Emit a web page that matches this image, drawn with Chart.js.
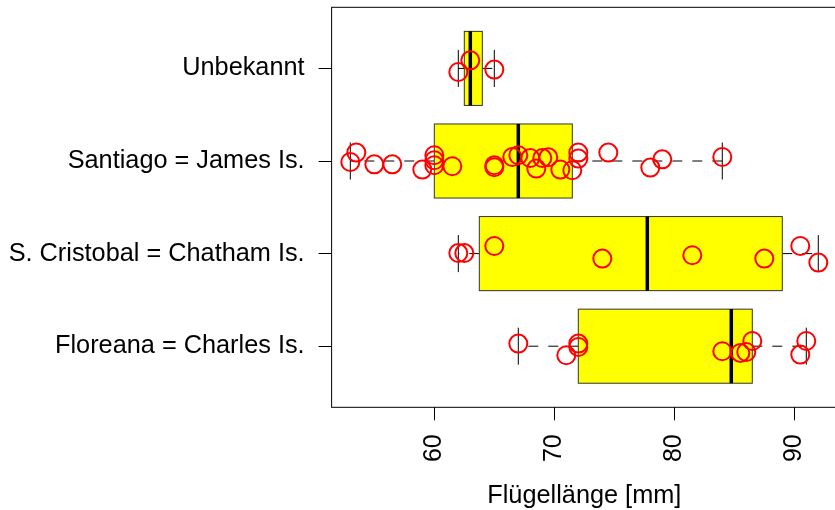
<!DOCTYPE html>
<html>
<head>
<meta charset="utf-8">
<script src="https://cdn.jsdelivr.net/npm/chart.js@4/dist/chart.umd.min.js"></script>
<style>
  html, body { margin: 0; padding: 0; overflow: hidden; background: #fff; width: 835px; height: 510px; }
  canvas { display: block; }
</style>
</head>
<body>
<canvas id="c" width="840" height="510"></canvas>
<script>
// Groups, bottom to top on the value axis
const islands = ["Floreana = Charles Is.", "S. Cristobal = Chatham Is.", "Santiago = James Is.", "Unbekannt"];
const xTicks = [60, 70, 80, 90];

// Wing lengths (mm) per island, with the vertical jitter of each stripchart point
const floreana = [67, 71, 72, 72, 84, 85.5, 86, 86.5, 90.5, 91];
const floreanaJitter = [0.028, -0.098, 0.028, -0.009, -0.055, -0.073, -0.063, 0.056, -0.091, 0.056];

const chatham = [62, 62.5, 65, 74, 81.5, 87.5, 90.5, 92];
const chathamJitter = [0.006, 0.006, 0.082, -0.054, -0.018, -0.054, 0.082, -0.097];

const santiago = [53, 53.5, 55, 56.5, 59, 60, 60, 60, 61.5, 65, 65, 66.5, 67, 68, 68.5, 69, 69.5, 70.5, 71.5, 72, 72, 74.5, 78, 79, 84];
const santiagoJitter = [-0.011, 0.091, -0.036, -0.036, -0.093, 0.062, 0.008, -0.046, -0.057, -0.046, -0.068, 0.043, 0.062, 0.032, -0.082, 0.032, 0.040, -0.093, -0.100, 0.091, 0.026, 0.091, -0.071, 0.018, 0.043];

const unbekannt = [62, 63, 65];
const unbekanntJitter = [-0.039, 0.087, -0.013];

const groups = [floreana, chatham, santiago, unbekannt];
const jitters = [floreanaJitter, chathamJitter, santiagoJitter, unbekanntJitter];

// Tukey five-number summary and 1.5*IQR whiskers
function fivenum(a) {
  const x = [...a].sort((p, q) => p - q);
  const n = x.length;
  const n4 = Math.floor((n + 3) / 2) / 2;
  const d = [1, n4, (n + 1) / 2, n + 1 - n4, n];
  return d.map(v => 0.5 * (x[Math.floor(v) - 1] + x[Math.ceil(v) - 1]));
}
function boxStats(a) {
  const f = fivenum(a);
  const iqr = f[3] - f[1];
  const inside = a.filter(v => v >= f[1] - 1.5 * iqr && v <= f[3] + 1.5 * iqr);
  return { lo: Math.min(...inside), q1: f[1], med: f[2], q3: f[3], hi: Math.max(...inside) };
}

const points = [];
groups.forEach((g, i) => g.forEach((v, k) => points.push({ x: v, y: i + 1 + jitters[i][k] })));

const BOX_HALF = 0.4, STAPLE_HALF = 0.2;

const boxPlugin = {
  id: 'boxes',
  beforeDatasetsDraw(chart) {
    const { ctx, chartArea: a, scales: { x, y } } = chart;
    ctx.save();
    groups.forEach((g, i) => {
      const pos = i + 1;
      const s = boxStats(g);
      const yc = y.getPixelForValue(pos);
      const yt = y.getPixelForValue(pos + BOX_HALF);
      const yb = y.getPixelForValue(pos - BOX_HALF);
      const st = y.getPixelForValue(pos + STAPLE_HALF);
      const sb = y.getPixelForValue(pos - STAPLE_HALF);
      const xlo = x.getPixelForValue(s.lo), xq1 = x.getPixelForValue(s.q1);
      const xmed = x.getPixelForValue(s.med), xq3 = x.getPixelForValue(s.q3);
      const xhi = x.getPixelForValue(s.hi);

      // dashed whiskers
      ctx.strokeStyle = '#000';
      ctx.lineWidth = 1;
      ctx.setLineDash([10, 10]);
      ctx.beginPath();
      ctx.moveTo(xq1, yc); ctx.lineTo(xlo, yc);
      ctx.moveTo(xq3, yc); ctx.lineTo(xhi, yc);
      ctx.stroke();
      ctx.setLineDash([]);

      // staples
      ctx.beginPath();
      ctx.moveTo(xlo, st); ctx.lineTo(xlo, sb);
      ctx.moveTo(xhi, st); ctx.lineTo(xhi, sb);
      ctx.stroke();

      // box
      ctx.fillStyle = '#ffff00';
      ctx.fillRect(xq1, yt, xq3 - xq1, yb - yt);
      ctx.strokeStyle = '#333';
      ctx.strokeRect(xq1, yt, xq3 - xq1, yb - yt);

      // median
      ctx.strokeStyle = '#000';
      ctx.lineWidth = 3.5;
      ctx.beginPath();
      ctx.moveTo(xmed, yt); ctx.lineTo(xmed, yb);
      ctx.stroke();
    });

    // plot frame
    ctx.strokeStyle = '#000';
    ctx.lineWidth = 1;
    ctx.strokeRect(a.left, a.top, a.right - a.left, a.bottom - a.top);
    ctx.restore();
  }
};

// keep the plot area fixed: no extra room reserved for label overhang
function noOverhang(s) {
  s.paddingTop = 0; s.paddingBottom = 0; s.paddingLeft = 0; s.paddingRight = 0;
}

Chart.defaults.font.family = "'Liberation Sans', Arial, Helvetica, sans-serif";
Chart.defaults.color = '#000';

new Chart(document.getElementById('c'), {
  type: 'scatter',
  data: {
    datasets: [{
      data: points,
      clip: false,
      pointStyle: 'circle',
      pointRadius: 9,
      pointHoverRadius: 9,
      borderWidth: 2,
      borderColor: '#ff0000',
      backgroundColor: 'rgba(0,0,0,0)'
    }]
  },
  options: {
    responsive: false,
    animation: false,
    devicePixelRatio: 1,
    layout: { autoPadding: false, padding: { top: 7.3, right: 3, left: 0, bottom: 0 } },
    plugins: { legend: { display: false }, tooltip: { enabled: false } },
    scales: {
      x: {
        type: 'linear',
        position: 'bottom',
        min: 51.44,
        max: 93.56,
        afterBuildTicks: s => { s.ticks = xTicks.map(v => ({ value: v })); },
        afterFit: s => { s.height = 102.7; noOverhang(s); },
        ticks: { minRotation: 90, maxRotation: 90, autoSkip: false, font: { size: 25 }, color: '#000', padding: 14 },
        grid: { drawOnChartArea: false, drawTicks: true, tickLength: 13, color: '#000' },
        border: { display: false },
        title: { display: true, text: 'Flügellänge [mm]', font: { size: 25.3, lineHeight: 1.1 }, color: '#000', padding: { top: 0, bottom: 0 } }
      },
      y: {
        type: 'linear',
        min: 0.34,
        max: 4.66,
        afterBuildTicks: s => { s.ticks = islands.map((_, i) => ({ value: i + 1 })); },
        afterFit: s => { s.width = 331.6; noOverhang(s); },
        ticks: { autoSkip: false, font: { size: 25.3 }, color: '#000', padding: 14, callback: v => islands[v - 1] },
        grid: { drawOnChartArea: false, drawTicks: true, tickLength: 13, color: '#000' },
        border: { display: false }
      }
    }
  },
  plugins: [boxPlugin]
});
</script>
</body>
</html>
